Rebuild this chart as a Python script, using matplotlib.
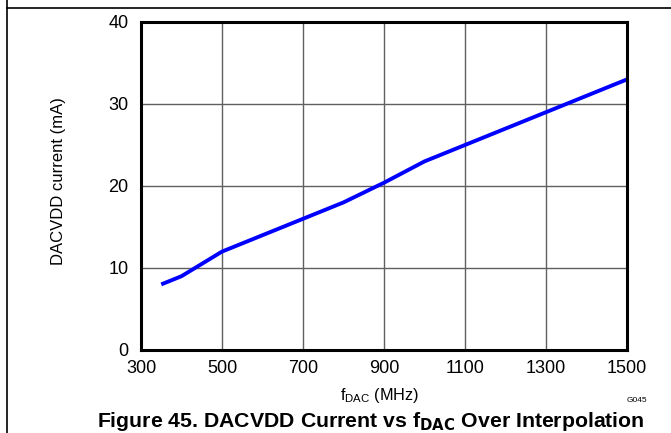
import matplotlib.pyplot as plt
from matplotlib.lines import Line2D

plt.rcParams["font.family"] = ["Liberation Sans", "DejaVu Sans"]

f_dac = [350, 400, 500, 600, 700, 800, 900, 1000, 1100, 1200, 1300, 1400, 1500]
current_ma = [8, 9, 12, 14, 16, 18, 20.4, 23, 25, 27, 29, 31, 33]

x_ticks = [300, 500, 700, 900, 1100, 1300, 1500]
y_ticks = [0, 10, 20, 30, 40]

W, H = 671, 433
figure = plt.figure(figsize=(W / 100, H / 100), dpi=100)
axes = figure.add_axes([141 / W, 1 - 350 / H, 486 / W, 328 / H])

axes.plot(f_dac, current_ma, "-", color="#0000FF", linewidth=2.8, solid_capstyle="butt")

axes.set_xlim(300, 1500)
axes.set_ylim(0, 40)
axes.set_xticks(x_ticks)
axes.set_yticks(y_ticks)
axes.tick_params(length=0, labelsize=13)
axes.tick_params(axis="x", pad=7)
axes.tick_params(axis="y", pad=9)
axes.grid(color="#606060", linewidth=1.0)
axes.set_axisbelow(True)
for spine in axes.spines.values():
    spine.set_linewidth(2.2)
    spine.set_color("black")

figure.text(58 / W, 1 - 181 / H, "DACVDD current (mA)", fontsize=12, rotation=90,
            ha="center", va="center")
figure.text(379 / W, 1 - 400 / H, r"f$_{\mathregular{DAC}}$ (MHz)", fontsize=11.7,
            ha="center", va="baseline")

figure.text(637 / W, 1 - 400 / H, "G045", fontsize=6, ha="center", va="center")
figure.text(371 / W, 1 - 427 / H,
            r"Figure 45. DACVDD Current vs f$_{\mathbf{DAC}}$ Over Interpolation",
            fontsize=15.3, fontweight="bold", ha="center", va="baseline")

# page frame lines
figure.add_artist(Line2D([7 / W, 1], [1 - 8 / H, 1 - 8 / H], color="black", linewidth=1.2,
                         transform=figure.transFigure))
figure.add_artist(Line2D([7 / W, 7 / W], [0, 1], color="black", linewidth=1.2,
                         transform=figure.transFigure))

figure.savefig("out.png", dpi=100)
